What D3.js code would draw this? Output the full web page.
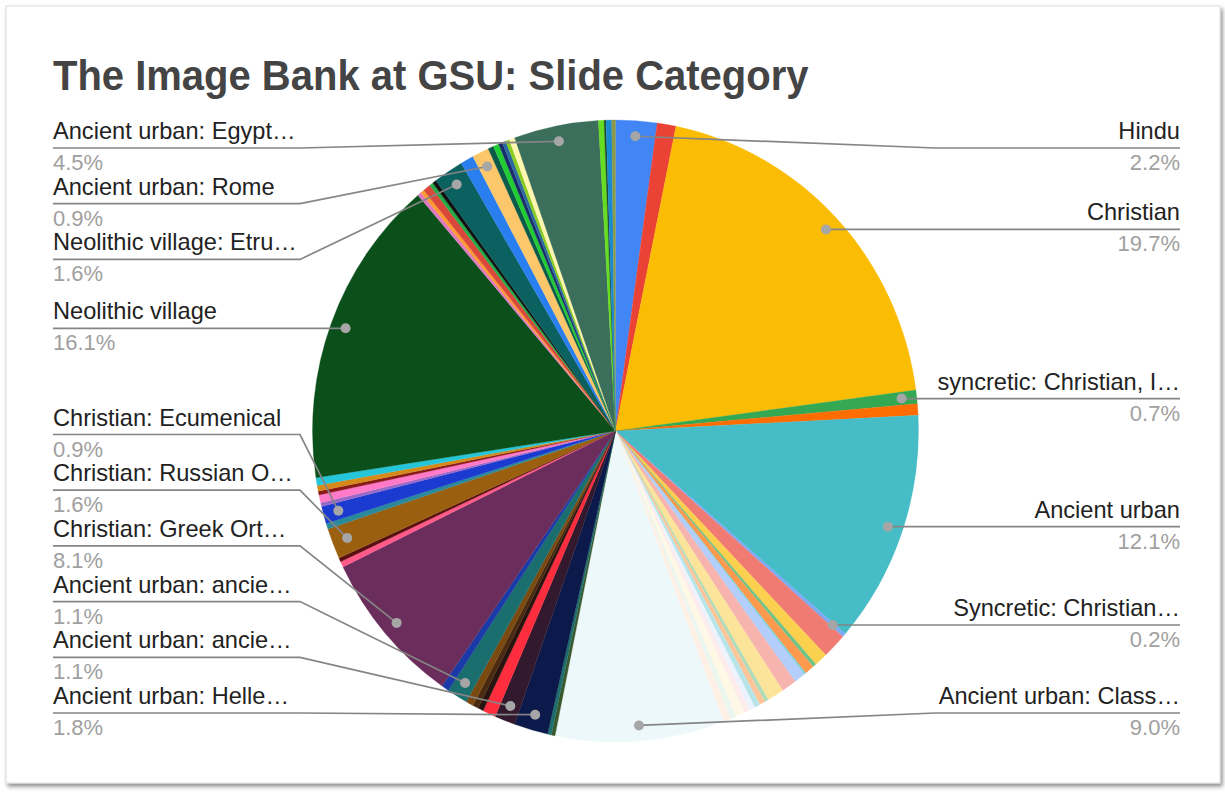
<!DOCTYPE html>
<html>
<head>
<meta charset="utf-8">
<script src="https://cdn.jsdelivr.net/npm/d3@7/dist/d3.min.js"></script>
<style>
  html, body { margin: 0; padding: 0; background: #ffffff; }
  svg { display: block; }
</style>
</head>
<body>
<svg id="chart" width="1225" height="793"></svg>
<script>
// ---------------- DATA ----------------
const title = "The Image Bank at GSU: Slide Category";

const categories = [
  "Hindu", "Buddhist", "Christian", "syncretic: Christian, I…", "syncretic: other",
  "Ancient urban", "Syncretic: Christian…", "Ancient urban: Near East", "Ancient urban: Persia", "Ancient urban: India",
  "Ancient urban: China", "Ancient urban: Japan", "Ancient urban: Americas", "Ancient urban: Africa", "Ancient urban: Anatolia",
  "Ancient urban: Levant", "Ancient urban: Minoan", "Ancient urban: Mycenae", "Ancient urban: Cyclades", "Ancient urban: Etruria",
  "Ancient urban: Carthage", "Ancient urban: Byzantium", "Ancient urban: other", "Ancient urban: Class…", "Islamic",
  "Islamic: Ottoman", "Ancient urban: Helle…", "Ancient urban: ancie…", "Jewish", "Jain",
  "Shinto", "Taoist", "Ancient urban: ancie…", "Christian: Coptic", "Christian: Greek Ort…",
  "Christian: Armenian", "Christian: Syriac", "Christian: Russian O…", "Christian: Ethiopian", "Christian: Ecumenical",
  "Christian: Protestant", "Christian: Catholic", "Christian: Orthodox", "Christian: Celtic", "Christian: other",
  "Neolithic village", "Neolithic village: Malta", "Neolithic village: Anatolia", "Neolithic village: Britain", "Neolithic village: Iberia",
  "Neolithic village: Balkans", "Neolithic village: Etru…", "Ancient urban: Greece", "Ancient urban: Rome", "Ancient urban: Sumer",
  "Ancient urban: Assyria", "Ancient urban: Babylon", "Ancient urban: Hittite", "Ancient urban: Nubia", "Ancient urban: Phoenicia",
  "Ancient urban: Egypt…", "Indigenous", "Animist", "Zoroastrian", "Sikh"
];

// percentage share of each slice (sums to 100)
const values = [
  2.2, 1.0, 19.7, 0.7, 0.6,
  12.1, 0.2, 1.3, 0.7, 0.2,
  0.5, 0.1, 0.6, 0.8, 0.9,
  0.2, 0.3, 0.3, 0.3, 0.3,
  0.5, 0.3, 0.4, 9.0, 0.2,
  0.2, 1.8, 1.1, 0.7, 0.3,
  0.3, 0.4, 1.1, 0.4, 8.1,
  0.3, 0.2, 1.6, 0.3, 0.9,
  0.2, 0.4, 0.2, 0.3, 0.4,
  16.1, 0.2, 0.2, 0.4, 0.2,
  0.2, 1.6, 0.7, 0.9, 0.3,
  0.3, 0.2, 0.2, 0.2, 0.3,
  4.5, 0.3, 0.1, 0.3, 0.2
];

const colors = [
  "#4285f4", "#ea4335", "#fbbc04", "#34a853", "#ff6d01",
  "#46bdc6", "#7baaf7", "#f07b72", "#fcd04f", "#71c287",
  "#ff994d", "#7ed1d7", "#b3cefb", "#f7b4ae", "#fde49b",
  "#aedcba", "#ffc599", "#b5e5e8", "#ecf3fe", "#fdeceb",
  "#fff8e6", "#ebf6ee", "#fff0e6", "#edf8fa", "#3a5a2e",
  "#1f6f6f", "#0b1a4a", "#33192d", "#ff2d3d", "#2a1410",
  "#4a2a10", "#7a4a10", "#1b6e6e", "#1a3aa8", "#6b2d5c",
  "#ff5a8a", "#5a1010", "#9a6010", "#2a8a9a", "#1a3ad0",
  "#9a6ac8", "#ff7ac8", "#8a1a1a", "#d68a1a", "#26c6da",
  "#0b4f1a", "#e07ac0", "#ff9a30", "#d9483b", "#22aa44",
  "#111111", "#0b6060", "#2a7ff0", "#fcc76a", "#0b5a4a",
  "#22cc33", "#1a2a6a", "#2a6aa0", "#88cc22", "#fff6b0",
  "#3b6e5b", "#66dd22", "#1a4a2a", "#1a8ad0", "#8a9a4a"
];

// indices of slices that carry an outside label
const labeledIdx = [0, 2, 3, 5, 6, 23, 26, 27, 32, 34, 37, 39, 45, 51, 53, 60];

// ---------------- CHART ----------------
const svg = d3.select("#chart");

const defs = svg.append("defs");
const f = defs.append("filter").attr("id", "shadow")
  .attr("x", "-5%").attr("y", "-5%").attr("width", "110%").attr("height", "110%");
f.append("feDropShadow").attr("dx", 2).attr("dy", 3).attr("stdDeviation", 2)
  .attr("flood-color", "#000").attr("flood-opacity", 0.45);

svg.append("rect").attr("x", 6).attr("y", 6).attr("width", 1214).attr("height", 777)
  .attr("fill", "#fff").attr("stroke", "#dcdcdc").attr("stroke-width", 1)
  .attr("filter", "url(#shadow)");

svg.append("text").text(title)
  .attr("transform", "translate(53,90) scale(1,1.06)")
  .attr("font-family", "'Liberation Sans', Arial, sans-serif")
  .attr("font-weight", "bold").attr("font-size", 40)
  .attr("fill", "#444444");

const cx = 615.5, cy = 431, rx = 303, ry = 311, k = ry / rx;

const data = categories.map((c, i) => ({ name: c, value: values[i], color: colors[i], i }));
const total = d3.sum(values);

const pie = d3.pie().value(d => d.value).sort(null);
const arcs = pie(data);
const arc = d3.arc().innerRadius(0).outerRadius(rx);

const g = svg.append("g").attr("transform", `translate(${cx},${cy}) scale(1,${k})`);
g.selectAll("path").data(arcs).join("path")
  .attr("d", arc)
  .attr("fill", d => d.data.color)
  .attr("stroke", d => d.data.color)
  .attr("stroke-width", 0.3);

// ---------------- LABELS ----------------
const labelArcs = arcs.filter(a => labeledIdx.includes(a.data.i)).map(a => {
  const mid = (a.startAngle + a.endAngle) / 2;
  const r = 0.95 * rx;
  return {
    a, mid,
    px: cx + r * Math.sin(mid),
    py: cy - r * Math.cos(mid) * k,
    side: mid < Math.PI ? "right" : "left"
  };
});

const spacing = 55.7, yTop = 148, yBottom = 713;
function resolve(list) {
  list.sort((p, q) => p.py - q.py);
  list.forEach(d => d.ly = d.py);
  // push down from the top limit
  for (let i = 0; i < list.length; i++) {
    const lim = i === 0 ? yTop : list[i - 1].ly + spacing;
    list[i].ly = Math.max(list[i].ly, lim);
  }
  // push up from the bottom limit
  for (let i = list.length - 1; i >= 0; i--) {
    const lim = i === list.length - 1 ? yBottom : list[i + 1].ly - spacing;
    list[i].ly = Math.min(list[i].ly, lim);
  }
}
const rightL = labelArcs.filter(d => d.side === "right");
const leftL = labelArcs.filter(d => d.side === "left");
resolve(rightL); resolve(leftL);

const xLeftOuter = 53, xLeftInner = 300, xRightInner = 935, xRightOuter = 1180;
const font = "'Liberation Sans', Arial, sans-serif";
const fmt = v => (v / total * 100).toFixed(1) + "%";

const lg = svg.append("g");
lg.selectAll("polyline").data(labelArcs).join("polyline")
  .attr("points", d => d.side === "right"
    ? `${d.px},${d.py} ${xRightInner},${d.ly} ${xRightOuter},${d.ly}`
    : `${d.px},${d.py} ${xLeftInner},${d.ly} ${xLeftOuter},${d.ly}`)
  .attr("fill", "none").attr("stroke", "#858585").attr("stroke-width", 1.7);

lg.selectAll("circle").data(labelArcs).join("circle")
  .attr("cx", d => d.px).attr("cy", d => d.py).attr("r", 5)
  .attr("fill", "#a6a6a6");

lg.selectAll("text.name").data(labelArcs).join("text")
  .attr("class", "name")
  .attr("x", d => d.side === "right" ? xRightOuter : xLeftOuter)
  .attr("y", d => d.ly - 9)
  .attr("text-anchor", d => d.side === "right" ? "end" : "start")
  .attr("font-family", font).attr("font-size", 23.6).attr("fill", "#222222")
  .text(d => d.a.data.name);

lg.selectAll("text.pct").data(labelArcs).join("text")
  .attr("class", "pct")
  .attr("x", d => d.side === "right" ? xRightOuter : xLeftOuter)
  .attr("y", d => d.ly + 22)
  .attr("text-anchor", d => d.side === "right" ? "end" : "start")
  .attr("font-family", font).attr("font-size", 22).attr("fill", "#a0a0a0")
  .text(d => fmt(d.a.data.value));
</script>
</body>
</html>
